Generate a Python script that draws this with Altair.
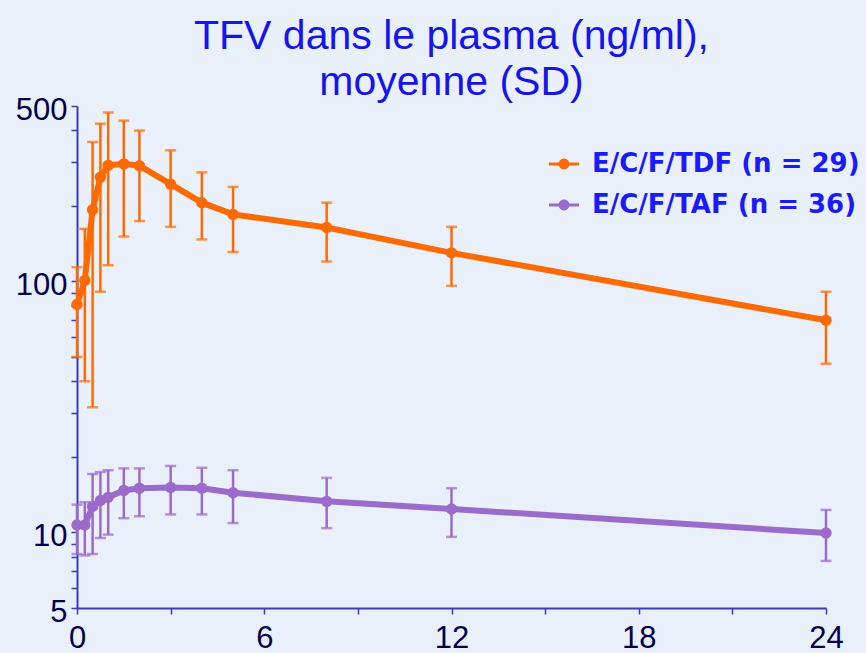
import altair as alt
import pandas as pd

times = [0, 0.25, 0.5, 0.75, 1, 1.5, 2, 3, 4, 5, 8, 12, 24]

tdf_mean = [81, 101, 193, 260, 290, 294, 289, 244, 206, 185, 164, 130, 70]
tdf_upper = [114, 162, 359, 425, 471, 437, 399, 333, 272, 238, 206, 165, 91]
tdf_lower = [50, 40, 31.5, 91, 116, 151, 174, 165, 147, 131, 120, 96, 47]

taf_mean = [10.7, 10.7, 12.7, 13.4, 13.8, 14.7, 15.0, 15.1, 15.0, 14.4, 13.3, 12.4, 9.95]
taf_upper = [12.9, 13.2, 17.1, 17.4, 17.7, 18.0, 18.0, 18.4, 18.1, 17.7, 16.5, 15.0, 12.3]
taf_lower = [8.2, 8.1, 8.2, 9.5, 9.8, 11.4, 11.6, 11.8, 11.8, 10.9, 10.4, 9.6, 7.7]

series_names = ["E/C/F/TDF (n = 29)", "E/C/F/TAF (n = 36)"]
series_colors = ["#ff6a00", "#9a6bcb"]

x_ticks = [0, 3, 6, 9, 12, 15, 18, 21, 24]
y_ticks = [5, 6, 7, 8, 9, 10, 20, 30, 40, 50, 60, 70, 80, 90, 100, 200, 300, 400, 500]

rows = []
for name, m, u, l in [(series_names[0], tdf_mean, tdf_upper, tdf_lower),
                      (series_names[1], taf_mean, taf_upper, taf_lower)]:
    for t, mv, uv, lv in zip(times, m, u, l):
        rows.append({"t": t, "mean": mv, "upper": uv, "lower": lv,
                     "group": name, "grp": name})
df = pd.DataFrame(rows)

xs = alt.Scale(domain=[0, 24], nice=False, zero=False)
ys = alt.Scale(type="log", domain=[5, 500], nice=False)
cs = alt.Scale(domain=series_names, range=series_colors)

legend_path = ("M-1,-0.1H-0.3V0.1H-1Z "
               "M0.3,-0.1H1V0.1H0.3Z "
               "M-0.36,0A0.36,0.36 0 1 1 0.36,0A0.36,0.36 0 1 1 -0.36,0Z")

x_enc = alt.X("t:Q", scale=xs, title=None,
              axis=alt.Axis(values=x_ticks, labelFlush=False, labelPadding=9,
                            labelExpr="datum.value % 6 == 0 ? datum.label : ''"))
y_axis = alt.Axis(values=y_ticks, format="d", labelFlush=False, labelOffset=4,
                  labelExpr="(datum.value == 5 || datum.value == 10 || datum.value == 100 || datum.value == 500) ? datum.label : ''")

base = alt.Chart(df)

stroke_enc = alt.Stroke("grp:N", scale=cs, legend=None)
fill_enc = alt.Fill("grp:N", scale=cs, legend=None)

rules = base.mark_rule(strokeWidth=2.5).encode(
    x=x_enc,
    y=alt.Y("lower:Q", scale=ys, title=None, axis=y_axis),
    y2="upper:Q",
    stroke=stroke_enc,
)
caps_hi = base.mark_tick(orient="horizontal", size=11, thickness=2.5).encode(
    x=x_enc, y=alt.Y("upper:Q", scale=ys),
    fill=fill_enc,
)
caps_lo = base.mark_tick(orient="horizontal", size=11, thickness=2.5).encode(
    x=x_enc, y=alt.Y("lower:Q", scale=ys),
    fill=fill_enc,
)
lines = base.mark_line(strokeWidth=6, interpolate="linear").encode(
    x=x_enc, y=alt.Y("mean:Q", scale=ys),
    stroke=stroke_enc,
    detail="grp:N",
)
points = base.mark_point(filled=True, size=130, opacity=1).encode(
    x=x_enc, y=alt.Y("mean:Q", scale=ys),
    color=alt.Color("group:N", scale=cs, sort=series_names,
                    legend=alt.Legend(title=None, orient="none", legendX=471, legendY=42,
                                      symbolType=legend_path, symbolSize=900,
                                      symbolOpacity=1, rowPadding=12, labelOffset=12,
                                      labelFont="DejaVu Sans", labelFontWeight="bold",
                                      labelFontSize=26, labelColor="#1a1aff",
                                      labelLimit=400)),
)

chart = alt.layer(rules, caps_hi, caps_lo, lines, points).resolve_scale(
    color="independent", fill="independent", stroke="independent"
).properties(
    width=749,
    height=502,
    autosize=alt.AutoSizeParams(type="none"),
    padding={"left": 77, "top": 106, "right": 40, "bottom": 45},
    background="#eaf0fa",
    title=alt.TitleParams(
        text=["TFV dans le plasma (ng/ml),", "moyenne (SD)"],
        font="Liberation Sans", fontSize=41, fontWeight="normal",
        color="#1414f0", anchor="middle", lineHeight=46, offset=-10,
    ),
).configure_view(stroke=None).configure_axis(
    grid=False,
    domainColor="#3a3ab4", domainWidth=2,
    tickColor="#3a3ab4", tickWidth=1.5, tickSize=6,
    labelFont="Liberation Sans", labelFontSize=31, labelColor="#00004d",
    labelPadding=4,
)

chart.save("out.html", embed_options={"renderer": "svg", "actions": False})
